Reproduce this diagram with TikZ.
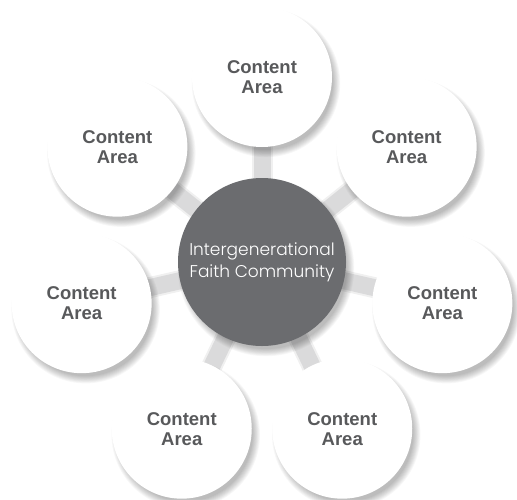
\documentclass[tikz,border=0pt]{standalone}
\usepackage{fontspec}
\setmainfont{Liberation Sans}
\newfontfamily\hubfont{Poppins Light}
\usetikzlibrary{calc}
\definecolor{hubgray}{HTML}{6B6C6F}
\definecolor{txtgray}{HTML}{58595B}
\definecolor{bargray}{HTML}{DADADB}
\tikzset{
  spoke/.style={line width=17pt, draw=bargray},
  spokeshade/.style={line width=21pt, draw=black, opacity=0.06},
  area/.style={circle, fill=white, minimum size=140pt, inner sep=0pt, align=center,
    font=\bfseries\fontsize{18.5}{20}\selectfont, text=txtgray},
  hubnode/.style={circle, fill=hubgray, minimum size=168pt, inner sep=0pt, align=center,
    font=\hubfont\fontsize{17}{22}\selectfont, text=white},
}
\newcommand{\softshadow}[2]{%
  \foreach \k in {0,...,8} {\fill[black, opacity=0.032] ($(#1)+(4,6)$) circle ({#2-3+\k*0.9});}%
}
\begin{document}
\begin{tikzpicture}[x=1pt,y=-1pt]
\useasboundingbox (0,0) rectangle (517,499);
\fill[white] (0,0) rectangle (517,499);
\coordinate (c0) at (262,262);
\foreach \i/\a in {1/90,2/38.57,3/-12.86,4/-64.29,5/-115.71,6/-167.14,7/141.43} {
  \coordinate (c\i) at ($(c0)+({185*cos(\a)},{-185*sin(\a)})$);
}
% spokes
\foreach \i in {1,...,7} {
  \draw[spokeshade] (c0) -- (c\i);
  \draw[spoke] (c0) -- (c\i);
}
% shadows of outer circles
\foreach \i in {1,...,7} { \softshadow{c\i}{70} }
% outer circles
\node[area] (a1) at (c1) {Content\\Area};
\node[area] (a2) at (c2) {Content\\Area};
\node[area] (a3) at (c3) {Content\\Area};
\node[area] (a4) at (c4) {Content\\Area};
\node[area] (a5) at (c5) {Content\\Area};
\node[area] (a6) at (c6) {Content\\Area};
\node[area] (a7) at (c7) {Content\\Area};
% hub
\softshadow{c0}{84}
\node[hubnode] (hub) at (c0) {Intergenerational\\Faith Community};
\end{tikzpicture}
\end{document}
